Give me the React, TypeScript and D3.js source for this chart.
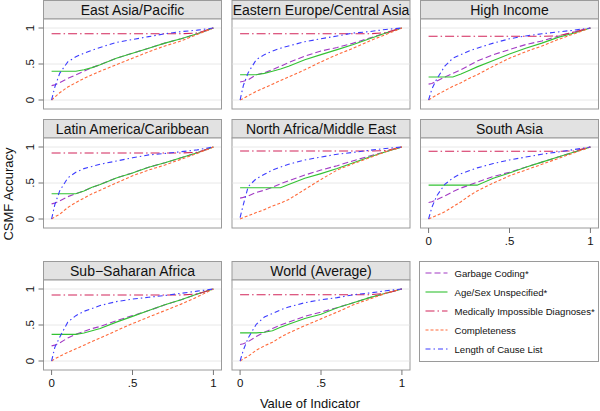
import React from "react";
import * as d3 from "d3";

const regions = [
  "East Asia/Pacific",
  "Eastern Europe/Central Asia",
  "High Income",
  "Latin America/Caribbean",
  "North Africa/Middle East",
  "South Asia",
  "Sub−Saharan Africa",
  "World (Average)",
];

// value of indicator (x) at which every curve is read
const indicatorValues = [0, 0.02, 0.05, 0.1, 0.15, 0.2, 0.25, 0.3, 0.4, 0.5, 0.6, 0.7, 0.8, 0.9, 1];

const garbageCoding = [
  [0.2, 0.21, 0.24, 0.3, 0.35, 0.4, 0.45, 0.49, 0.58, 0.65, 0.72, 0.79, 0.85, 0.92, 1],
  [0.25, 0.26, 0.28, 0.35, 0.38, 0.42, 0.47, 0.52, 0.61, 0.68, 0.73, 0.79, 0.86, 0.93, 1],
  [0.22, 0.23, 0.26, 0.32, 0.37, 0.42, 0.48, 0.54, 0.63, 0.7, 0.77, 0.82, 0.885, 0.945, 1],
  [0.21, 0.22, 0.25, 0.31, 0.35, 0.39, 0.44, 0.48, 0.57, 0.64, 0.72, 0.78, 0.85, 0.92, 1],
  [0.29, 0.3, 0.32, 0.37, 0.4, 0.44, 0.49, 0.53, 0.61, 0.68, 0.74, 0.81, 0.875, 0.935, 1],
  [0.23, 0.24, 0.27, 0.32, 0.38, 0.43, 0.47, 0.51, 0.59, 0.65, 0.72, 0.79, 0.86, 0.93, 1],
  [0.21, 0.22, 0.25, 0.32, 0.37, 0.41, 0.45, 0.48, 0.56, 0.63, 0.7, 0.78, 0.85, 0.93, 1],
  [0.23, 0.24, 0.27, 0.34, 0.4, 0.45, 0.5, 0.54, 0.62, 0.68, 0.74, 0.81, 0.88, 0.94, 1],
];

const ageSexUnspecified = [
  [0.4, 0.4, 0.4, 0.4, 0.4, 0.42, 0.45, 0.49, 0.58, 0.65, 0.72, 0.79, 0.85, 0.92, 1],
  [0.35, 0.35, 0.35, 0.35, 0.37, 0.4, 0.43, 0.47, 0.56, 0.63, 0.7, 0.77, 0.85, 0.93, 1],
  [0.32, 0.32, 0.32, 0.32, 0.32, 0.36, 0.41, 0.46, 0.55, 0.64, 0.72, 0.79, 0.87, 0.93, 1],
  [0.35, 0.35, 0.35, 0.35, 0.35, 0.39, 0.44, 0.48, 0.57, 0.64, 0.72, 0.78, 0.85, 0.92, 1],
  [0.435, 0.435, 0.435, 0.435, 0.435, 0.435, 0.435, 0.48, 0.565, 0.63, 0.7, 0.78, 0.86, 0.935, 1],
  [0.47, 0.47, 0.47, 0.47, 0.47, 0.47, 0.47, 0.47, 0.565, 0.64, 0.72, 0.79, 0.86, 0.93, 1],
  [0.37, 0.37, 0.37, 0.37, 0.37, 0.39, 0.42, 0.45, 0.54, 0.62, 0.7, 0.78, 0.85, 0.93, 1],
  [0.39, 0.39, 0.39, 0.39, 0.4, 0.42, 0.47, 0.51, 0.59, 0.65, 0.74, 0.81, 0.88, 0.94, 1],
];

const medicallyImpossible = [
  [0.92, 0.92, 0.92, 0.92, 0.92, 0.92, 0.92, 0.92, 0.92, 0.92, 0.92, 0.92, 0.92, 0.93, 1],
  [0.92, 0.92, 0.92, 0.92, 0.92, 0.92, 0.92, 0.92, 0.92, 0.92, 0.92, 0.92, 0.92, 0.935, 1],
  [0.885, 0.885, 0.885, 0.885, 0.885, 0.885, 0.885, 0.885, 0.885, 0.885, 0.885, 0.885, 0.89, 0.945, 1],
  [0.917, 0.917, 0.917, 0.917, 0.917, 0.917, 0.917, 0.917, 0.917, 0.917, 0.917, 0.917, 0.917, 0.925, 1],
  [0.944, 0.944, 0.944, 0.944, 0.944, 0.944, 0.944, 0.944, 0.944, 0.944, 0.944, 0.944, 0.944, 0.95, 1],
  [0.94, 0.94, 0.94, 0.94, 0.94, 0.94, 0.94, 0.94, 0.94, 0.94, 0.94, 0.94, 0.94, 0.945, 1],
  [0.917, 0.917, 0.917, 0.917, 0.917, 0.917, 0.917, 0.917, 0.917, 0.917, 0.917, 0.917, 0.917, 0.93, 1],
  [0.92, 0.92, 0.92, 0.92, 0.92, 0.92, 0.92, 0.92, 0.92, 0.92, 0.92, 0.92, 0.92, 0.94, 1],
];

const completeness = [
  [0, 0.04, 0.1, 0.18, 0.24, 0.3, 0.35, 0.4, 0.49, 0.58, 0.67, 0.75, 0.82, 0.91, 1],
  [0, 0.02, 0.06, 0.12, 0.17, 0.22, 0.27, 0.32, 0.42, 0.53, 0.63, 0.72, 0.82, 0.91, 1],
  [0, 0.03, 0.07, 0.13, 0.19, 0.24, 0.3, 0.35, 0.47, 0.58, 0.67, 0.75, 0.84, 0.92, 1],
  [0, 0.03, 0.065, 0.16, 0.23, 0.29, 0.35, 0.4, 0.5, 0.6, 0.68, 0.75, 0.83, 0.91, 1],
  [0, 0.02, 0.045, 0.09, 0.13, 0.18, 0.22, 0.27, 0.41, 0.55, 0.68, 0.77, 0.85, 0.935, 1],
  [0, 0.02, 0.05, 0.1, 0.17, 0.24, 0.32, 0.39, 0.5, 0.6, 0.68, 0.76, 0.84, 0.92, 1],
  [0, 0.03, 0.065, 0.12, 0.17, 0.22, 0.27, 0.32, 0.42, 0.52, 0.61, 0.7, 0.79, 0.89, 1],
  [0, 0.03, 0.065, 0.15, 0.21, 0.26, 0.33, 0.39, 0.49, 0.585, 0.68, 0.78, 0.86, 0.94, 1],
];

const causeListLength = [
  [0, 0.18, 0.37, 0.53, 0.6, 0.65, 0.69, 0.73, 0.8, 0.84, 0.88, 0.92, 0.95, 0.97, 1],
  [0, 0.2, 0.38, 0.56, 0.63, 0.68, 0.72, 0.75, 0.81, 0.85, 0.89, 0.93, 0.95, 0.98, 1],
  [0, 0.15, 0.29, 0.47, 0.58, 0.63, 0.68, 0.72, 0.79, 0.85, 0.89, 0.92, 0.945, 0.97, 1],
  [0, 0.2, 0.39, 0.57, 0.65, 0.7, 0.73, 0.76, 0.805, 0.85, 0.89, 0.91, 0.935, 0.96, 1],
  [0.02, 0.2, 0.45, 0.56, 0.62, 0.68, 0.72, 0.76, 0.82, 0.86, 0.9, 0.925, 0.955, 0.98, 1],
  [0, 0.16, 0.32, 0.48, 0.57, 0.63, 0.67, 0.71, 0.77, 0.82, 0.86, 0.9, 0.93, 0.965, 1],
  [0, 0.19, 0.33, 0.54, 0.63, 0.69, 0.73, 0.77, 0.825, 0.86, 0.885, 0.91, 0.94, 0.97, 1],
  [0, 0.15, 0.32, 0.51, 0.61, 0.66, 0.71, 0.75, 0.81, 0.85, 0.88, 0.92, 0.945, 0.975, 1],
];

const yTicks = [0, 0.5, 1];
const xTicks = [0, 0.5, 1];
const tickLabel = (v: number) => (v === 0 ? "0" : v === 1 ? "1" : ".5");

// drawing order matches the legend
const seriesList = [
  { name: "Garbage Coding*", data: garbageCoding, color: "#a23bc4", dash: "6,3" },
  { name: "Age/Sex Unspecified*", data: ageSexUnspecified, color: "#33c233", dash: "" },
  { name: "Medically Impossible Diagnoses*", data: medicallyImpossible, color: "#d2245a", dash: "9,3,1.5,3" },
  { name: "Completeness", data: completeness, color: "#ff6a3a", dash: "3,2" },
  { name: "Length of Cause List", data: causeListLength, color: "#3c3cff", dash: "5,3,1.5,3" },
];

const font = "'Liberation Sans', Arial, Helvetica, sans-serif";
const panelW = 178;
const stripH = 18.5;
const plotH = 90;
const colLeft = [43.5, 232, 420.5];
const rowTop = [0.5, 119.5, 261.5];

function Panel({ idx }: { idx: number }) {
  const col = idx % 3;
  const row = Math.floor(idx / 3);
  const left = colLeft[col];
  const top = rowTop[row];
  const plotTop = top + stripH;
  const x = d3.scaleLinear().domain([-0.05, 1.05]).range([left, left + panelW]);
  const y = d3.scaleLinear().domain([-0.125, 1.125]).range([plotTop + plotH, plotTop]);
  const line = d3
    .line<number>()
    .x((_, i) => x(indicatorValues[i]))
    .y((d) => y(d));
  const showY = col === 0;
  const showX = idx >= 5;
  return (
    <g>
      <rect x={left} y={top} width={panelW} height={stripH} fill="#e2e2e2" stroke="#9a9a9a" />
      <text x={left + panelW / 2} y={top + 14} textAnchor="middle" fontSize={14} fontFamily={font} fill="#111">
        {regions[idx]}
      </text>
      <rect x={left} y={plotTop} width={panelW} height={plotH} fill="#fff" stroke="#9a9a9a" />
      {yTicks.map((t) => (
        <line key={t} x1={left + 0.5} x2={left + panelW - 0.5} y1={y(t)} y2={y(t)} stroke="#e8e8e8" strokeWidth={1} />
      ))}
      {seriesList.map((s) => (
        <path
          key={s.name}
          d={line(s.data[idx]) || ""}
          fill="none"
          stroke={s.color}
          strokeWidth={1.1}
          strokeDasharray={s.dash}
        />
      ))}
      {showY &&
        yTicks.map((t) => (
          <g key={t}>
            <line x1={left - 5} x2={left} y1={y(t)} y2={y(t)} stroke="#777" />
            <text
              transform={`translate(${left - 10},${y(t)}) rotate(-90)`}
              textAnchor="middle"
              fontSize={11.5}
              fontFamily={font}
              fill="#111"
            >
              {tickLabel(t)}
            </text>
          </g>
        ))}
      {showX &&
        xTicks.map((t) => (
          <g key={t}>
            <line x1={x(t)} x2={x(t)} y1={plotTop + plotH} y2={plotTop + plotH + 5} stroke="#777" />
            <text x={x(t)} y={plotTop + plotH + 17} textAnchor="middle" fontSize={11.5} fontFamily={font} fill="#111">
              {tickLabel(t)}
            </text>
          </g>
        ))}
    </g>
  );
}

function Legend() {
  const lx = 419.5;
  const ly = 261.5;
  const rowY = d3.scaleLinear().domain([0, 4]).range([ly + 11.5, ly + 87.5]);
  return (
    <g>
      <rect x={lx} y={ly} width={179} height={100} fill="#fff" stroke="#9a9a9a" />
      {seriesList.map((s, i) => (
        <g key={s.name}>
          <line
            x1={lx + 6}
            x2={lx + 28}
            y1={rowY(i)}
            y2={rowY(i)}
            stroke={s.color}
            strokeWidth={1.1}
            strokeDasharray={s.dash}
          />
          <text x={lx + 35} y={rowY(i) + 3.5} fontSize={9.6} fontFamily={font} fill="#111">
            {s.name}
          </text>
        </g>
      ))}
    </g>
  );
}

export default function App() {
  return (
    <svg width={600} height={411} style={{ position: "absolute", left: 0, top: 0, background: "#fff" }}>
      {regions.map((_, i) => (
        <Panel key={i} idx={i} />
      ))}
      <Legend />
      <text
        transform="translate(12.5,194) rotate(-90)"
        textAnchor="middle"
        fontSize={13}
        fontFamily={font}
        fill="#111"
      >
        CSMF Accuracy
      </text>
      <text x={310} y={408} textAnchor="middle" fontSize={13} fontFamily={font} fill="#111">
        Value of Indicator
      </text>
    </svg>
  );
}
